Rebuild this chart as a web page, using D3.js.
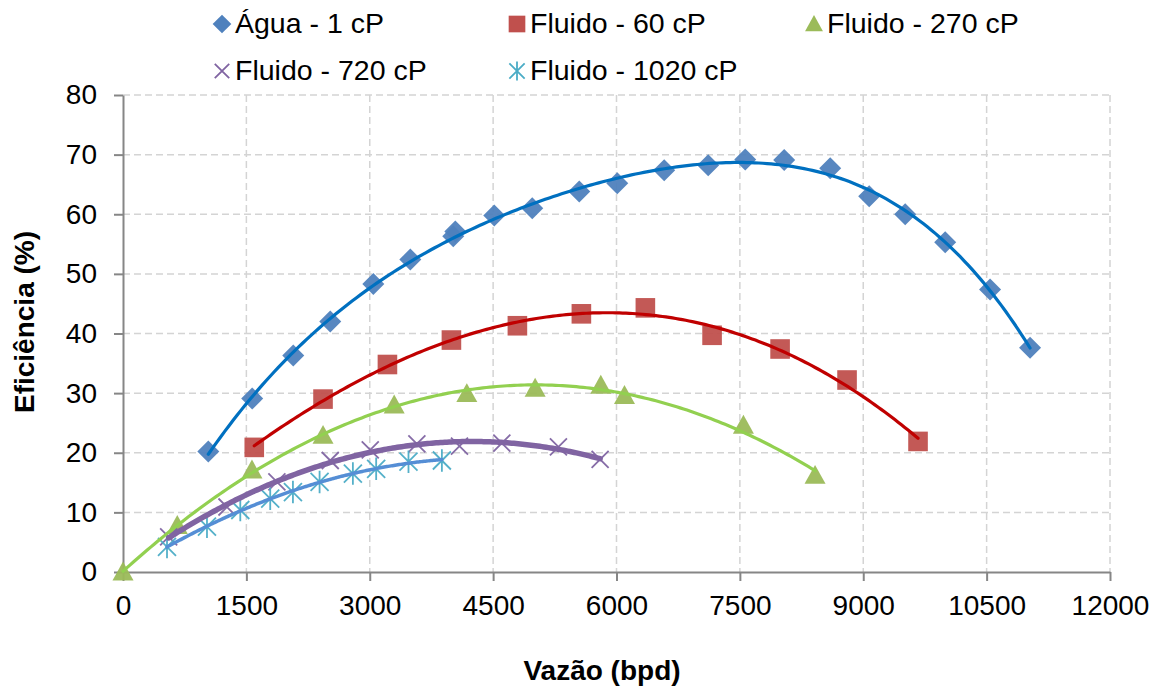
<!DOCTYPE html>
<html>
<head>
<meta charset="utf-8">
<script src="https://cdn.jsdelivr.net/npm/d3@7"></script>
<style>
  html, body { margin: 0; padding: 0; background: #fff; }
  svg { display: block; font-family: "Liberation Sans", Arial, sans-serif; }
</style>
</head>
<body>
<svg id="chart" width="1161" height="686"></svg>
<script>
// Measured efficiency vs flow rate for each viscosity
const seriesNames = ["Água - 1 cP", "Fluido - 60 cP", "Fluido - 270 cP", "Fluido - 720 cP", "Fluido - 1020 cP"];

const aguaX = [1037, 1571, 2070, 2520, 3043, 3493, 4015, 4040, 4514, 4976, 5547, 6009, 6580, 7115, 7565, 8039, 8598, 9072, 9510, 9996, 10542, 11028];
const aguaY = [20.2, 29.1, 36.3, 42.0, 48.3, 52.4, 56.3, 57.1, 59.8, 61.0, 63.8, 65.2, 67.4, 68.2, 69.2, 69.1, 67.7, 63.0, 60.0, 55.3, 47.4, 37.6];

const f60X = [1596, 2432, 3215, 3993, 4795, 5573, 6351, 7162, 7989, 8803, 9666];
const f60Y = [20.9, 29.0, 34.8, 38.9, 41.3, 43.3, 44.3, 39.7, 37.4, 32.2, 21.9];

const f270X = [0, 660, 1568, 2432, 3297, 4180, 5011, 5809, 6097, 7543, 8414];
const f270Y = [0, 7.8, 17.1, 22.9, 28.0, 29.9, 30.8, 31.3, 29.6, 24.6, 16.2];

const f720X = [555, 1264, 1871, 2520, 3006, 3573, 4091, 4606, 5294, 5801];
const f720Y = [5.9, 10.9, 15.1, 18.7, 20.5, 21.5, 21.1, 21.6, 21.0, 18.9];

const f1020X = [535, 1021, 1426, 1790, 2066, 2390, 2795, 3078, 3471, 3877];
const f1020Y = [4.2, 7.6, 10.4, 12.3, 13.4, 15.1, 16.5, 17.3, 18.5, 18.7];

const xTicks = [0, 1500, 3000, 4500, 6000, 7500, 9000, 10500, 12000];
const yTicks = [0, 10, 20, 30, 40, 50, 60, 70, 80];

const svg = d3.select("#chart");
const m = { left: 123, right: 1110, top: 95, bottom: 572 };
const fontSize = "28px";

const x = d3.scaleLinear().domain([0, 12000]).range([m.left, m.right]);
const y = d3.scaleLinear().domain([0, 80]).range([m.bottom, m.top]);

// Gridlines
const grid = svg.append("g");
grid.selectAll("line.h").data(yTicks.filter(d => d > 0)).join("line")
  .attr("x1", m.left).attr("x2", m.right)
  .attr("y1", d => y(d)).attr("y2", d => y(d))
  .attr("stroke", "#d4d4d4").attr("stroke-width", 1.5).attr("stroke-dasharray", "7,4");
grid.selectAll("line.v").data(xTicks.filter(d => d > 0)).join("line")
  .attr("y1", m.top).attr("y2", m.bottom)
  .attr("x1", d => x(d)).attr("x2", d => x(d))
  .attr("stroke", "#d4d4d4").attr("stroke-width", 1.5).attr("stroke-dasharray", "7,4");

// Axes
const xAxis = svg.append("g").attr("transform", `translate(0,${m.bottom})`)
  .call(d3.axisBottom(x).tickValues(xTicks).tickSize(9).tickSizeOuter(0).tickPadding(14).tickFormat(d3.format("d")));
const yAxis = svg.append("g").attr("transform", `translate(${m.left},0)`)
  .call(d3.axisLeft(y).tickValues(yTicks).tickSize(9).tickSizeOuter(0).tickPadding(17).tickFormat(d3.format("d")));
[xAxis, yAxis].forEach(a => {
  a.select(".domain").attr("stroke", "#868686").attr("stroke-width", 2);
  a.selectAll(".tick line").attr("stroke", "#868686").attr("stroke-width", 2);
  a.selectAll(".tick text").attr("fill", "#000").style("font-size", fontSize)
    .style("font-family", "'Liberation Sans', Arial, sans-serif");
});

// Axis titles
svg.append("text").attr("x", 602).attr("y", 680)
  .attr("text-anchor", "middle").style("font-size", fontSize).style("font-weight", "bold")
  .text("Vazão (bpd)");
svg.append("text").attr("transform", `translate(34,322) rotate(-90)`)
  .attr("text-anchor", "middle").style("font-size", fontSize).style("font-weight", "bold")
  .text("Eficiência (%)");

// Least-squares polynomial trendline
function polyFit(xs, ys, deg) {
  const s = 1000;
  const n = deg + 1;
  const A = Array.from({ length: n }, () => new Array(n + 1).fill(0));
  xs.forEach((xv, k) => {
    const t = xv / s;
    for (let i = 0; i < n; i++) {
      for (let j = 0; j < n; j++) A[i][j] += Math.pow(t, i + j);
      A[i][n] += ys[k] * Math.pow(t, i);
    }
  });
  for (let c = 0; c < n; c++) {
    let p = c;
    for (let r = c + 1; r < n; r++) if (Math.abs(A[r][c]) > Math.abs(A[p][c])) p = r;
    [A[c], A[p]] = [A[p], A[c]];
    for (let r = 0; r < n; r++) {
      if (r === c) continue;
      const f = A[r][c] / A[c][c];
      for (let j = c; j <= n; j++) A[r][j] -= f * A[c][j];
    }
  }
  const coef = A.map((row, i) => row[n] / row[i]);
  return xv => coef.reduce((acc, c, i) => acc + c * Math.pow(xv / s, i), 0);
}

const series = [
  { name: seriesNames[0], xs: aguaX, ys: aguaY, deg: 4, line: "#0070C0", lw: 3.2, marker: "diamond", color: "#4F81BD" },
  { name: seriesNames[1], xs: f60X, ys: f60Y, deg: 3, line: "#C00000", lw: 3.2, marker: "square", color: "#C0504D" },
  { name: seriesNames[2], xs: f270X, ys: f270Y, deg: 2, line: "#92D050", lw: 3.2, marker: "triangle", color: "#9BBB59" },
  { name: seriesNames[3], xs: f720X, ys: f720Y, deg: 2, line: "#8064A2", lw: 5.5, marker: "x", color: "#8064A2" },
  { name: seriesNames[4], xs: f1020X, ys: f1020Y, deg: 2, line: "#558ED5", lw: 3.5, marker: "star", color: "#4BACC6" }
];

function drawMarker(g, type, color, scale) {
  const k = scale || 1;
  if (type === "diamond") {
    const r = 11 * k;
    g.append("path").attr("d", `M0,${-r}L${r},0L0,${r}L${-r},0Z`).attr("fill", color);
  } else if (type === "square") {
    const h = 9.8 * k;
    g.append("rect").attr("x", -h).attr("y", -h).attr("width", 2 * h).attr("height", 2 * h).attr("fill", color);
  } else if (type === "triangle") {
    const h = 10.5 * k;
    g.append("path").attr("d", `M0,${-h}L${h},${h * 0.8}L${-h},${h * 0.8}Z`).attr("fill", color);
  } else if (type === "x") {
    const h = 8.5 * k;
    g.append("path").attr("d", `M${-h},${-h}L${h},${h}M${h},${-h}L${-h},${h}`)
      .attr("stroke", color).attr("stroke-width", 1.8).attr("fill", "none");
  } else if (type === "star") {
    const h = 9 * k;
    g.append("path").attr("d", `M${-h},${-h}L${h},${h}M${h},${-h}L${-h},${h}M0,${-h * 1.25}L0,${h * 1.25}`)
      .attr("stroke", color).attr("stroke-width", 1.8).attr("fill", "none");
  }
}

const lineGen = d3.line().x(d => x(d[0])).y(d => y(d[1]));

// Markers first, trendlines drawn over them
series.forEach(s => {
  const g = svg.append("g");
  s.xs.forEach((xv, i) => {
    const mg = g.append("g").attr("transform", `translate(${x(xv)},${y(s.ys[i])})`).attr("opacity", 0.95);
    drawMarker(mg, s.marker, s.color);
  });
});
series.forEach(s => {
  const f = polyFit(s.xs, s.ys, s.deg);
  const x0 = d3.min(s.xs), x1 = d3.max(s.xs);
  const pts = d3.range(0, 201).map(i => { const xv = x0 + (x1 - x0) * i / 200; return [xv, f(xv)]; });
  svg.append("path").datum(pts).attr("d", lineGen)
    .attr("fill", "none").attr("stroke", s.line).attr("stroke-width", s.lw).attr("stroke-linecap", "round");
});

// Legend
const legendPos = [
  { x: 222, y: 24 }, { x: 517, y: 24 }, { x: 814, y: 24 },
  { x: 222, y: 71 }, { x: 517, y: 71 }
];
series.forEach((s, i) => {
  const p = legendPos[i];
  const mg = svg.append("g").attr("transform", `translate(${p.x},${p.y})`);
  drawMarker(mg, s.marker, s.color, 0.85);
  svg.append("text").attr("x", p.x + 13).attr("y", p.y + 8.5)
    .style("font-size", "28.5px").attr("fill", "#000").text(s.name);
});
</script>
</body>
</html>
